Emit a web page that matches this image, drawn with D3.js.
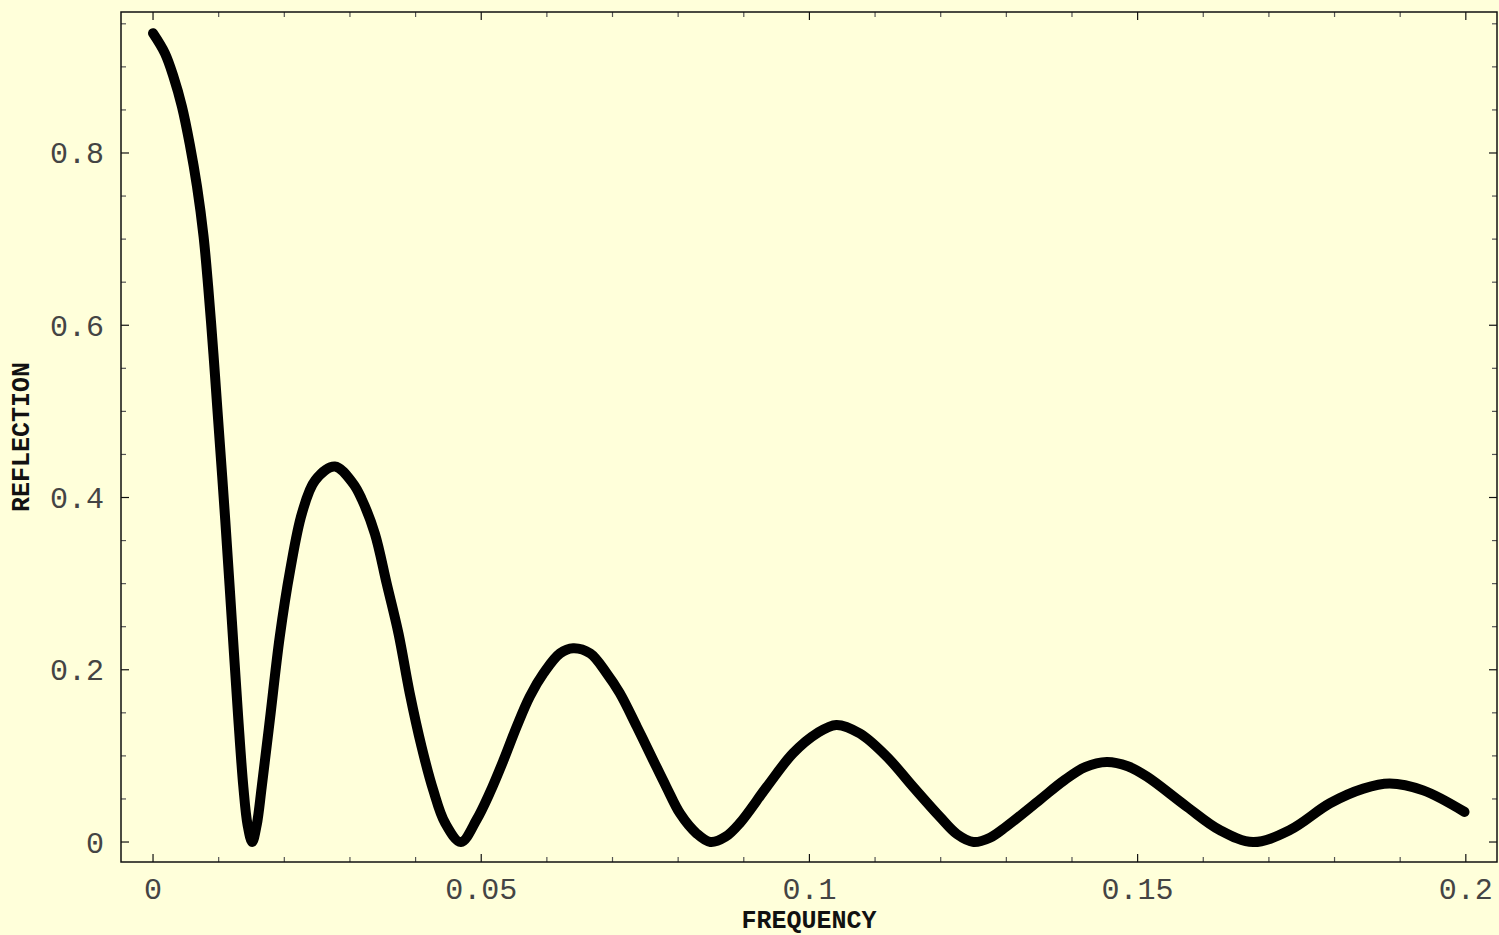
<!DOCTYPE html>
<html>
<head>
<meta charset="utf-8">
<script src="https://cdn.jsdelivr.net/npm/d3@7"></script>
<style>
  html, body { margin: 0; padding: 0; background: #ffffda; }
  .tick-label { font-family: 'Liberation Mono', 'DejaVu Sans Mono', monospace; font-size: 30px; fill: #444; }
  .axis-title { font-family: 'Liberation Mono', monospace; font-size: 25px; font-weight: bold; fill: #111; }
</style>
</head>
<body>
<div class="js-container"></div>
<script>
;(function() {
  'use strict';

  // Frequency values
  var freq = [
    0, 0.0018, 0.0031, 0.0044, 0.0056, 0.0067, 0.0077, 0.0084, 0.0092, 0.0098,
    0.011, 0.012, 0.013, 0.01376, 0.0144, 0.0151, 0.0158, 0.01656, 0.0178, 0.0193,
    0.0209, 0.0227, 0.0247, 0.0277, 0.0305, 0.0318, 0.0338, 0.0356, 0.0374, 0.0391,
    0.0409, 0.0427, 0.0445, 0.0469, 0.0493, 0.0513, 0.0534, 0.0554, 0.0574, 0.0595,
    0.062, 0.064, 0.0666, 0.0691, 0.0711, 0.0737, 0.0762, 0.0782, 0.0803, 0.0828,
    0.0849, 0.0872, 0.0894, 0.0935, 0.0975, 0.1011, 0.1041, 0.1077, 0.1118, 0.1158,
    0.1199, 0.1225, 0.125, 0.1275, 0.130, 0.1351, 0.1387, 0.1420, 0.1453, 0.1485,
    0.1514, 0.1575, 0.1625, 0.1676, 0.1732, 0.1793, 0.1844, 0.1884, 0.1935, 0.1998
  ];

  // Reflection values
  var refl = [
    0.939, 0.916, 0.889, 0.854, 0.810, 0.761, 0.703, 0.645, 0.567, 0.503,
    0.374, 0.258, 0.142, 0.064, 0.02, 0.0, 0.02, 0.064, 0.142, 0.238,
    0.316, 0.382, 0.420, 0.436, 0.416, 0.398, 0.358, 0.300, 0.242, 0.173,
    0.111, 0.060, 0.022, 0.0, 0.026, 0.057, 0.095, 0.134, 0.169, 0.196,
    0.219, 0.225, 0.219, 0.196, 0.173, 0.134, 0.095, 0.064, 0.033, 0.010,
    0.0, 0.006, 0.022, 0.064, 0.103, 0.126, 0.136, 0.126, 0.099, 0.064,
    0.029, 0.009, 0.0, 0.005, 0.018, 0.049, 0.071, 0.087, 0.093, 0.088,
    0.076, 0.041, 0.014, 0.0, 0.014, 0.045, 0.062, 0.068, 0.060, 0.035
  ];

  var xTickLabels = ['0', '0.05', '0.1', '0.15', '0.2'];
  var yTickLabels = ['0', '0.2', '0.4', '0.6', '0.8'];

  var data = freq.map(function(f, i) { return {f: f, r: refl[i]}; });

  var W = 1499, H = 935;
  var frame = {left: 121, right: 1497, top: 12, bottom: 862};

  var svg = d3.select('.js-container').append('svg')
              .attr('width', W)
              .attr('height', H);

  svg.append('rect')
      .attr('width', W).attr('height', H)
      .attr('fill', '#ffffda');

  // padded domains so 0 / 0.2 sit inside the frame like the original
  var x = d3.scaleLinear().domain([-0.00488, 0.20475]).range([frame.left, frame.right]);
  var y = d3.scaleLinear().domain([-0.0232, 0.9637]).range([frame.bottom, frame.top]);

  var xTicks = d3.range(0, 21).map(function(i) { return i / 100; });
  var yTicks = d3.range(0, 20).map(function(i) { return i / 20; });

  function isMajorX(v) { return Math.abs(v / 0.05 - Math.round(v / 0.05)) < 1e-6; }
  function isMajorY(v) { return Math.abs(v / 0.2 - Math.round(v / 0.2)) < 1e-6; }

  var ticks = svg.append('g');

  xTicks.forEach(function(v) {
    var major = isMajorX(v);
    var len = major ? 8 : 5;
    var col = major ? '#111' : '#555';
    ticks.append('line')
        .attr('x1', x(v)).attr('x2', x(v))
        .attr('y1', frame.bottom).attr('y2', frame.bottom - len)
        .attr('stroke', col).attr('stroke-width', 1.2);
    ticks.append('line')
        .attr('x1', x(v)).attr('x2', x(v))
        .attr('y1', frame.top).attr('y2', frame.top + len)
        .attr('stroke', col).attr('stroke-width', 1.2);
  });

  yTicks.forEach(function(v) {
    var major = isMajorY(v);
    var len = major ? 8 : 5;
    var col = major ? '#111' : '#555';
    ticks.append('line')
        .attr('x1', frame.left).attr('x2', frame.left + len)
        .attr('y1', y(v)).attr('y2', y(v))
        .attr('stroke', col).attr('stroke-width', 1.2);
    ticks.append('line')
        .attr('x1', frame.right).attr('x2', frame.right - len)
        .attr('y1', y(v)).attr('y2', y(v))
        .attr('stroke', col).attr('stroke-width', 1.2);
  });

  svg.append('rect')
      .attr('x', frame.left).attr('y', frame.top)
      .attr('width', frame.right - frame.left)
      .attr('height', frame.bottom - frame.top)
      .attr('fill', 'none')
      .attr('stroke', '#111')
      .attr('stroke-width', 1.5);

  // tick labels
  xTickLabels.forEach(function(t) {
    svg.append('text')
        .classed('tick-label', true)
        .attr('x', x(+t))
        .attr('y', 899)
        .attr('text-anchor', 'middle')
        .text(t);
  });

  yTickLabels.forEach(function(t) {
    svg.append('text')
        .classed('tick-label', true)
        .attr('x', 104)
        .attr('y', y(+t))
        .attr('dy', '0.35em')
        .attr('text-anchor', 'end')
        .text(t);
  });

  // axis titles
  svg.append('text')
      .classed('axis-title', true)
      .attr('x', 809)
      .attr('y', 928)
      .attr('text-anchor', 'middle')
      .text('FREQUENCY');

  svg.append('text')
      .classed('axis-title', true)
      .attr('transform', 'translate(29,437) rotate(-90)')
      .attr('text-anchor', 'middle')
      .text('REFLECTION');

  var line = d3.line()
      .x(function(d) { return x(d.f); })
      .y(function(d) { return y(d.r); })
      .curve(d3.curveCatmullRom.alpha(0.5));

  svg.append('path')
      .datum(data)
      .attr('d', line)
      .attr('fill', 'none')
      .attr('stroke', '#000')
      .attr('stroke-width', 10)
      .attr('stroke-linecap', 'round')
      .attr('stroke-linejoin', 'round');

}());
</script>
</body>
</html>
